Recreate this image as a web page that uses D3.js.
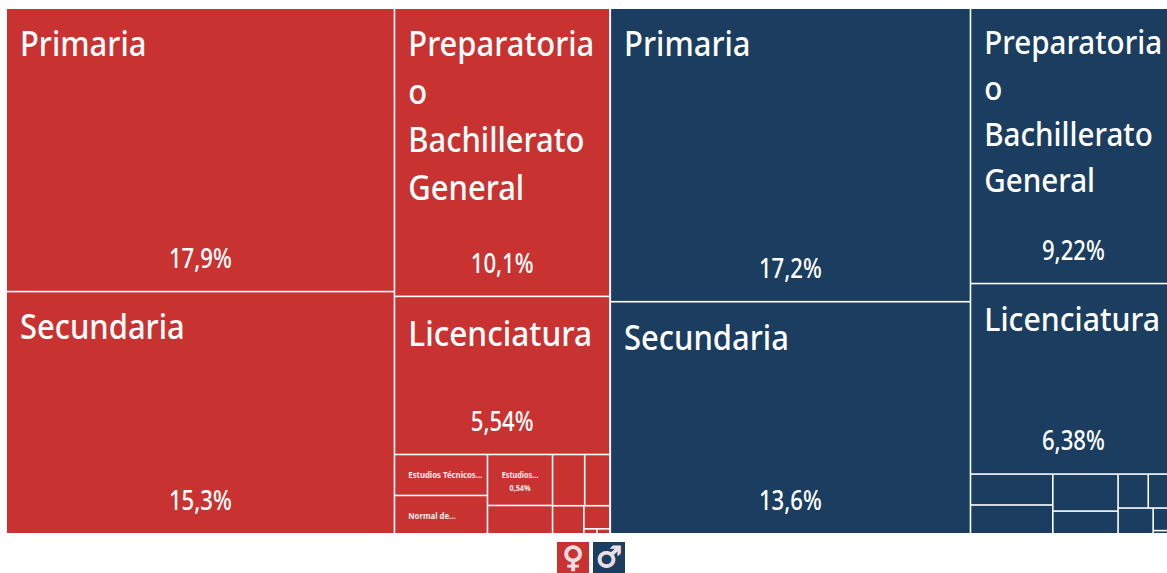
<!DOCTYPE html>
<html><head><meta charset="utf-8">
<script src="https://cdn.jsdelivr.net/npm/d3@7"></script>
<style>html,body{margin:0;padding:0;background:#fff;overflow:hidden}svg{display:block}text{font-family:"Noto Sans",sans-serif;fill:#fff}</style>
</head><body><svg id="c" width="1167" height="573"></svg>
<script>
const sexes = ["Mujeres", "Hombres"];
const femaleNames = ["Primaria","Secundaria","Preparatoria o Bachillerato General","Licenciatura","Estudios Técnicos...","Normal de...","Estudios...","","","","","","",""];
const femaleValues = [17.9,15.3,10.1,5.54,0.62,0.58,0.54,0.30,0.268,0.21,0.143,0.098,0.0105,0.0105];
const maleNames = ["Primaria","Secundaria","Preparatoria o Bachillerato General","Licenciatura","","","","","","","",""," "];
const maleValues = [17.2,13.6,9.22,6.38,0.414,0.386,0.393,0.241,0.1667,0.155,0.147,0.085,0.012];
const valueLabels = {"17.9":"17,9%","15.3":"15,3%","10.1":"10,1%","5.54":"5,54%","0.54":"0,54%","17.2":"17,2%","13.6":"13,6%","9.22":"9,22%","6.38":"6,38%"};
const colors = ["#c83331","#1b3d60"];
const icons = ["♀","♂"];

// nesting of leaves (indices) — "x" splits side by side, "y" stacks
const femaleNest = ["x",["y",0,1],["y",2,3,["x",["y",4,5],["y",6,7],["y",["x",8,9],["x",10,["y",11,["x",12,13]]]]]]];
const maleNest   = ["x",["y",0,1],["y",2,3,["x",["y",4,5],["y",6,7],["y",["x",8,9],["x",10,["y",11,12]]]]]];

function build(nest,names,values,sex){
  if(typeof nest==="number") return {name:names[nest],value:values[nest],sex};
  return {split:nest[0],sex,children:nest.slice(1).map(n=>build(n,names,values,sex))};
}
const tree={split:"x",children:[build(femaleNest,femaleNames,femaleValues,0),build(maleNest,maleNames,maleValues,1)]};
const root=d3.hierarchy(tree).sum(d=>d.value||0);
d3.treemap()
  .tile((n,a,b,c,d)=>(n.data.split==="x"?d3.treemapDice:d3.treemapSlice)(n,a,b,c,d))
  .size([1168.5,524])
  .paddingInner(n=>n.depth===0?2:1.6)
  .round(false)(root);

const svg=d3.select("#c");
const plot=svg.append("g").attr("transform","translate(7,9)");
const leaves=root.leaves();
plot.selectAll("rect.cell").data(leaves).join("rect").attr("class","cell")
  .attr("x",d=>d.x0).attr("y",d=>d.y0).attr("width",d=>d.x1-d.x0).attr("height",d=>d.y1-d.y0)
  .attr("fill",d=>colors[d.data.sex]);

const lineSets={"Preparatoria o Bachillerato General":["Preparatoria","o","Bachillerato","General"]};
const sizeOf=d=>{
  const w=d.x1-d.x0;
  if(w>300) return 34;
  return d.data.sex===0?34:32.5;
};
const big=leaves.filter(d=>d.data.name&&d.data.name.trim()&&d.x1-d.x0>150);
const g=plot.append("g");
big.forEach(d=>{
  const fs=sizeOf(d), lines=lineSets[d.data.name]||[d.data.name];
  const isPrep=lines.length>1;
  const step=d.data.sex===0?48:46;
  const isLic=d.data.name==="Licenciatura";
  const first=(isPrep&&d.data.sex===1)?45:(isLic&&d.data.sex===0)?49:47;
  const k=isLic?0.93:0.91;
  lines.forEach((l,i)=>{
    g.append("text").attr("transform",`translate(${d.x0+13},${d.y0+first+i*step}) scale(${k},1)`)
      .attr("font-size",fs).attr("font-weight",500).text(l);
  });
  g.append("text").attr("transform",`translate(${(d.x0+d.x1)/2},${d.y1-23}) scale(0.82,1)`)
    .attr("text-anchor","middle").attr("font-size",27).attr("font-weight",500).text(valueLabels[String(d.data.value)]);
});
leaves.filter(d=>d.data.name&&d.data.name.trim()&&d.x1-d.x0<=150).forEach(d=>{
  const isVal=valueLabels[String(d.data.value)];
  g.append("text").attr("transform",isVal?`translate(${(d.x0+d.x1)/2},${d.y0+23}) scale(0.76,1)`:`translate(${d.x0+13},${d.y0+23}) scale(0.82,1)`)
    .attr("text-anchor",isVal?"middle":"start").attr("font-size",9.5).attr("font-weight",700).attr("opacity",.9).text(d.data.name);
  if(isVal) g.append("text").attr("transform",`translate(${(d.x0+d.x1)/2},${d.y0+36}) scale(0.76,1)`)
    .attr("text-anchor","middle").attr("font-size",9.5).attr("font-weight",700).attr("opacity",.9).text(isVal);
});

const legendX=d3.scaleBand().domain(sexes).range([557,625]).paddingInner(0.11);
const lg=svg.selectAll("g.leg").data(sexes).join("g").attr("class","leg")
  .attr("transform",d=>`translate(${legendX(d)},542)`);
lg.append("rect").attr("width",legendX.bandwidth()).attr("height",31).attr("fill",(d,i)=>colors[i]);
lg.append("text").attr("x",legendX.bandwidth()/2).attr("y",25).attr("text-anchor","middle")
  .attr("font-size",29).style("font-family","DejaVu Sans").style("fill","#e9dfe2").style("stroke","#e9dfe2").style("stroke-width",1.2).text((d,i)=>icons[i]);
</script></body></html>
